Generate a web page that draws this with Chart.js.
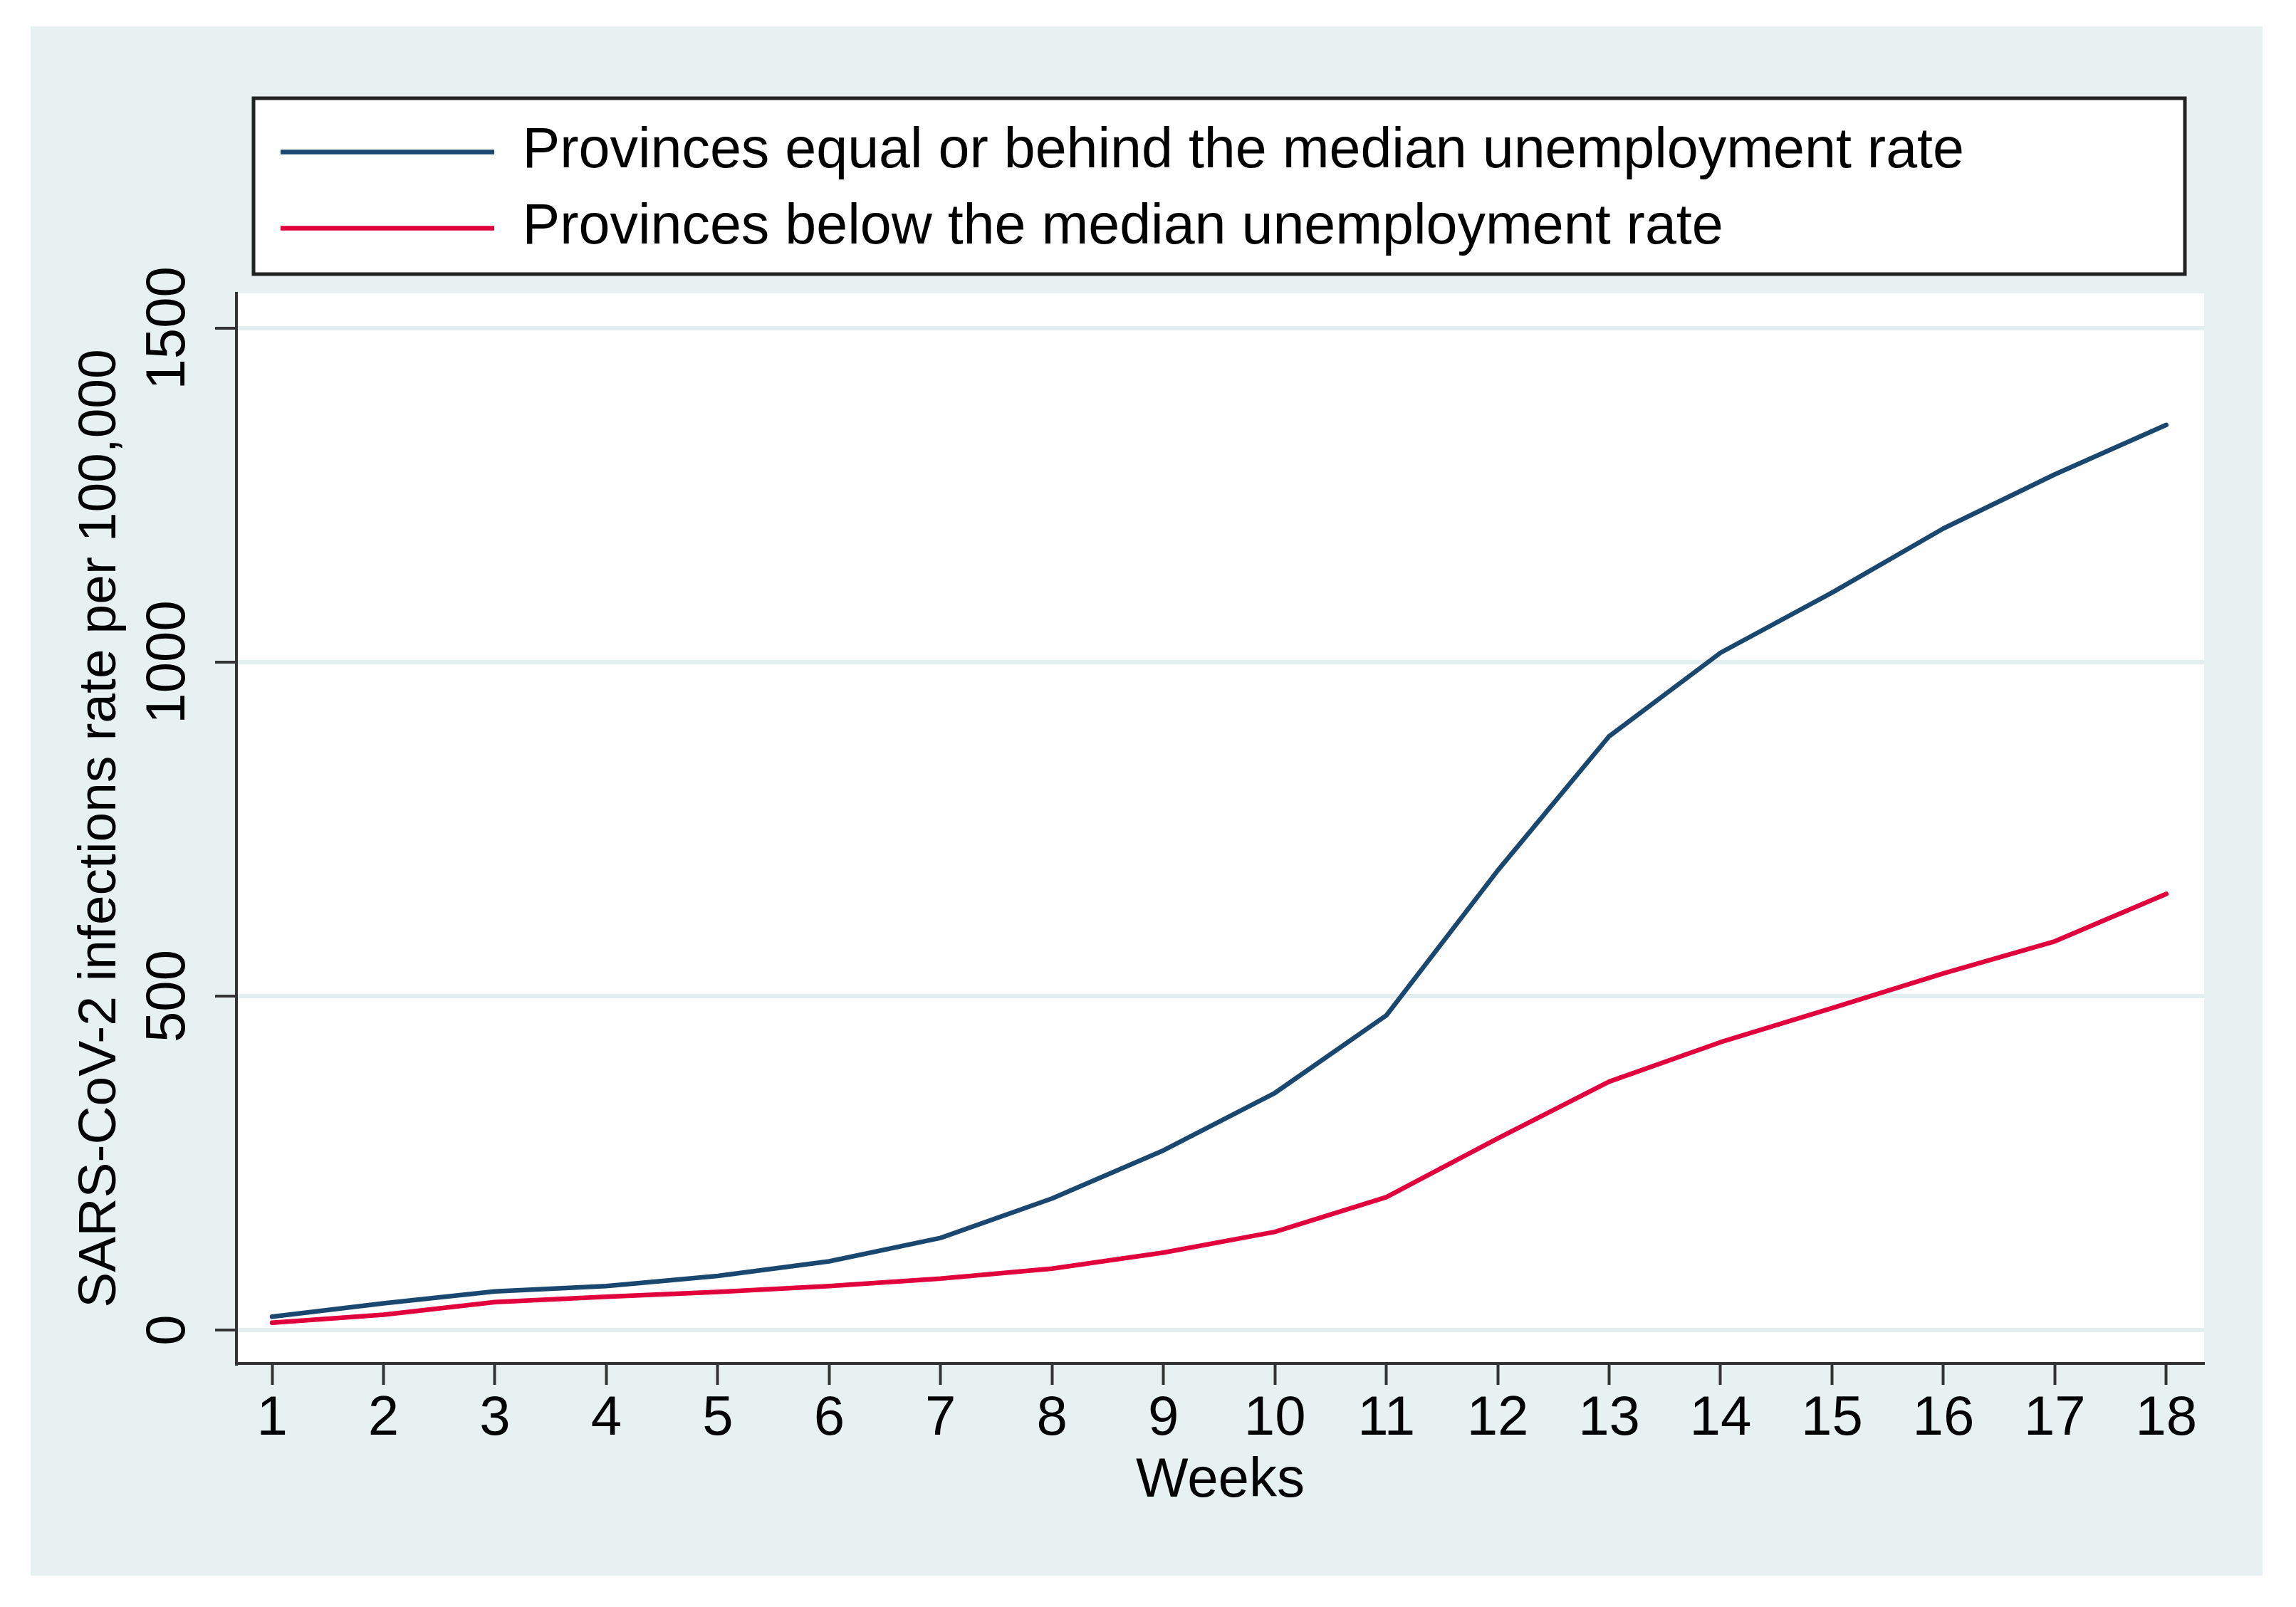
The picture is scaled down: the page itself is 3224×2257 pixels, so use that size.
<!DOCTYPE html>
<html>
<head>
<meta charset="utf-8">
<script src="https://cdn.jsdelivr.net/npm/chart.js@4.4.1/dist/chart.umd.min.js"></script>
<style>
  html, body { margin: 0; padding: 0; background: #fff; }
  canvas { display: block; }
</style>
</head>
<body>
<canvas id="infectionsChart" width="3224" height="2257" style="width:3224px;height:2257px"></canvas>
<script>
const weeks = [1, 2, 3, 4, 5, 6, 7, 8, 9, 10, 11, 12, 13, 14, 15, 16, 17, 18];
const equalOrBehind = [20, 40, 58, 66, 81, 103, 138, 197, 269, 355, 471, 688, 889, 1014, 1104, 1200, 1281, 1355];
const belowMedian = [11, 23, 42, 50, 57, 66, 77, 92, 116, 147, 199, 287, 372, 431, 482, 534, 582, 653];
const yTicks = [0, 500, 1000, 1500];
const seriesNames = [
  "Provinces equal or behind the median unemployment rate",
  "Provinces below the median unemployment rate"
];

const toPoints = (vals) => vals.map((v, i) => ({ x: weeks[i], y: v }));

Chart.defaults.font.family = "'Liberation Sans', Arial, sans-serif";
Chart.defaults.font.size = 78;
Chart.defaults.color = "#000";

// stata-ish frame: light region, white plot, boxed legend
const stataFrame = {
  id: "stataFrame",
  afterLayout(chart) {
    const lg = chart.legend;
    lg.left = 366;
    lg.right = 3060;
    lg.top = 146;
    lg.bottom = 392;
    lg.width = lg.right - lg.left;
    lg.height = lg.bottom - lg.top;
  },
  beforeDraw(chart) {
    const { ctx, chartArea } = chart;
    ctx.save();
    ctx.fillStyle = "#e8f1f2";
    ctx.fillRect(43, 37, 3134, 2176);
    ctx.fillStyle = "#fff";
    ctx.fillRect(chartArea.left, chartArea.top, chartArea.right - chartArea.left, chartArea.bottom - chartArea.top);
    ctx.fillRect(356, 138, 2712, 247);
    ctx.strokeStyle = "#222";
    ctx.lineWidth = 5;
    ctx.strokeRect(356, 138, 2712, 247);
    ctx.restore();
  }
};

const ctx = document.getElementById("infectionsChart").getContext("2d");

new Chart(ctx, {
  type: "line",
  data: {
    datasets: [
      {
        label: seriesNames[0],
        data: toPoints(equalOrBehind),
        borderColor: "#1a476f",
        borderWidth: 6.5,
        borderCapStyle: "round",
        borderJoinStyle: "round",
        pointRadius: 0,
        tension: 0
      },
      {
        label: seriesNames[1],
        data: toPoints(belowMedian),
        borderColor: "#e2003c",
        borderWidth: 6.5,
        borderCapStyle: "round",
        borderJoinStyle: "round",
        pointRadius: 0,
        tension: 0
      }
    ]
  },
  options: {
    responsive: false,
    devicePixelRatio: 1,
    animation: false,
    layout: { padding: { top: 188, right: 129, bottom: 0, left: 0 } },
    plugins: {
      legend: {
        position: "top",
        align: "start",
        labels: {
          usePointStyle: true,
          pointStyle: "line",
          pointStyleWidth: 300,
          padding: 28,
          color: "#000",
          font: { size: 79 }
        }
      },
      tooltip: { enabled: false }
    },
    scales: {
      x: {
        type: "linear",
        min: 0.68,
        max: 18.34,
        afterBuildTicks: (s) => { s.ticks = weeks.map((v) => ({ value: v })); },
        afterFit: (s) => { s.height = 342; s.paddingLeft = 0; s.paddingRight = 0; },
        border: { display: true, color: "#333", width: 4 },
        grid: { drawOnChartArea: false, tickColor: "#333", tickWidth: 4, tickLength: 30 },
        ticks: { autoSkip: false, maxRotation: 0, padding: 2, callback: (v) => String(v) },
        title: { display: true, text: "Weeks", padding: { top: 0, bottom: 130 } }
      },
      y: {
        type: "linear",
        min: -50,
        max: 1552,
        afterBuildTicks: (s) => { s.ticks = yTicks.map((v) => ({ value: v })); },
        afterFit: (s) => { s.width = 332; s.paddingTop = 0; s.paddingBottom = 0; },
        border: { display: true, color: "#333", width: 4 },
        grid: { color: "#e3eef0", lineWidth: 6, tickColor: "#333", tickWidth: 4, tickLength: 30 },
        ticks: {
          autoSkip: false,
          minRotation: 90,
          maxRotation: 90,
          crossAlign: "center",
          padding: -22,
          callback: (v) => String(v)
        },
        title: {
          display: true,
          text: "SARS-CoV-2 infections rate per 100,000",
          font: { size: 75 },
          padding: { top: 96, bottom: 0 }
        }
      }
    }
  },
  plugins: [stataFrame]
});
</script>
</body>
</html>
